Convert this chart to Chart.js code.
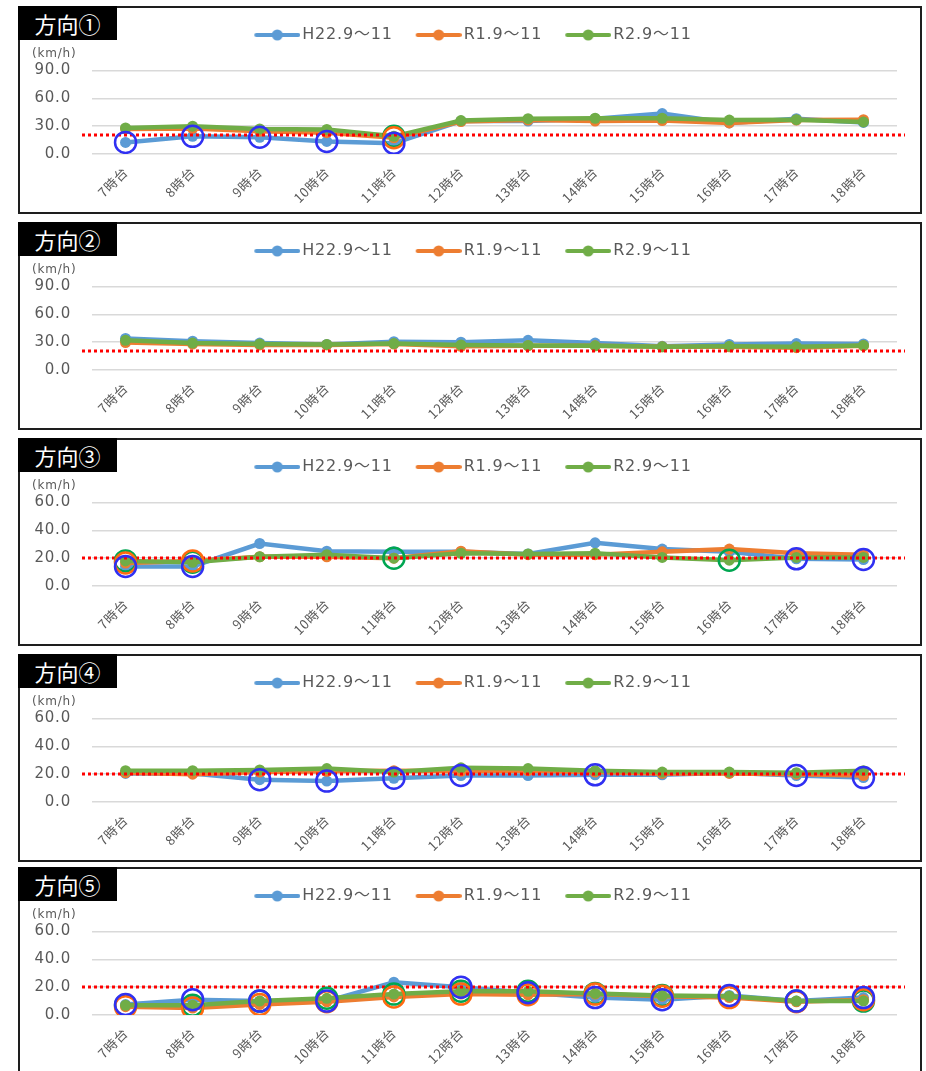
<!DOCTYPE html>
<html lang="ja">
<head>
<meta charset="utf-8">
<title>方向別 旅行速度</title>
<script src="https://cdn.jsdelivr.net/npm/chart.js@4.4.1/dist/chart.umd.min.js"></script>
<style>
  html, body { margin: 0; padding: 0; background: #fff; overflow: hidden; }
  .panel { position: absolute; left: 18px; width: 904px; height: 208px; border: 2px solid #1e1e1e; box-sizing: border-box; background: #fff; }
  .panel canvas { position: absolute; left: 0; top: 0; }
  .tag { position: absolute; left: -2px; top: -2px; width: 99px; height: 34px; background: #000; color: #fff;
         font: 22px "Noto Sans CJK JP", sans-serif; line-height: 34px; text-align: center; z-index: 2; }
</style>
</head>
<body>
<div class="panel" style="top:6px"><div class="tag">方向①</div><canvas id="c1" width="900" height="204"></canvas></div>
<div class="panel" style="top:222px"><div class="tag">方向②</div><canvas id="c2" width="900" height="204"></canvas></div>
<div class="panel" style="top:438px"><div class="tag">方向③</div><canvas id="c3" width="900" height="204"></canvas></div>
<div class="panel" style="top:654px"><div class="tag">方向④</div><canvas id="c4" width="900" height="204"></canvas></div>
<div class="panel" style="top:867px"><div class="tag">方向⑤</div><canvas id="c5" width="900" height="204"></canvas></div>

<script>
const hours = ["7時台", "8時台", "9時台", "10時台", "11時台", "12時台",
               "13時台", "14時台", "15時台", "16時台", "17時台", "18時台"];
const seriesNames = ["H22.9～11", "R1.9～11", "R2.9～11"];
const refSpeed = 20; // 赤点線 (km/h)

// 方向①
const dir1H22 = [12.5, 19, 18, 13.5, 11.5, 35.5, 35.5, 38, 43.5, 33.5, 38, 34];
const dir1R1  = [27, 27.5, 24.5, 23, 17.5, 35, 36.5, 35.5, 36, 33.5, 36.5, 37];
const dir1R2  = [28, 30, 27, 26.5, 19, 36, 38, 38.5, 38.5, 36.5, 37, 34.5];
const dir1RingH22 = ["7時台", "8時台", "9時台", "10時台", "11時台"];
const dir1RingR1  = ["11時台"];
const dir1RingR2  = ["11時台"];

// 方向②
const dir2H22 = [34, 31, 29, 27.5, 30.5, 30, 32, 29, 25.5, 27.5, 28.5, 28];
const dir2R1  = [29.5, 28, 27, 27, 28, 25.5, 26, 26, 25, 25, 24, 26];
const dir2R2  = [32, 29, 28, 27.5, 28.5, 27, 26.5, 26, 25, 25.5, 25, 26.5];
const dir2RingH22 = [];
const dir2RingR1  = [];
const dir2RingR2  = [];

// 方向③
const dir3H22 = [14, 14, 30.5, 25, 24.5, 24.5, 23, 31, 26.5, 24.5, 19.5, 19];
const dir3R1  = [16.5, 18, 21, 21, 20, 25, 22.5, 22.5, 24.5, 26.5, 23.5, 22.5];
const dir3R2  = [18, 17, 21, 22.5, 20, 23.5, 23, 23.5, 20.5, 18.5, 20.5, 20.5];
const dir3RingH22 = ["7時台", "8時台", "17時台", "18時台"];
const dir3RingR1  = ["7時台", "8時台"];
const dir3RingR2  = ["7時台", "8時台", "11時台", "16時台"];

// 方向④
const dir4H22 = [20.5, 20.5, 16, 15, 17, 19, 19, 19.5, 19.5, 21, 19, 17.5];
const dir4R1  = [21, 20, 21.5, 22, 22.5, 22, 22.5, 21.5, 20.5, 20.5, 20, 19];
const dir4R2  = [22.5, 22.5, 23, 24, 21.5, 24.5, 24, 22.5, 21.5, 21.5, 21, 22.5];
const dir4RingH22 = ["9時台", "10時台", "11時台", "12時台", "14時台", "17時台", "18時台"];
const dir4RingR1  = [];
const dir4RingR2  = [];

// 方向⑤
const dir5H22 = [7.5, 11, 10, 10, 23.5, 20, 16, 12.5, 11, 14, 10, 12.5];
const dir5R1  = [6, 5, 7.5, 9.5, 13, 15, 14.5, 15, 13.5, 12.5, 9.5, 11];
const dir5R2  = [7, 7, 10, 12, 15, 17, 17, 15.5, 14, 13.5, 10, 10];
const dir5RingH22 = ["7時台", "8時台", "9時台", "10時台", "12時台", "13時台",
                     "14時台", "15時台", "16時台", "17時台", "18時台"];
const dir5RingR1  = hours.slice();
const dir5RingR2  = hours.slice();

const yMaxes = [90, 90, 60, 60, 60];
const ySteps = [30, 30, 20, 20, 20];

const lineColors = ["#5b9bd5", "#ed7d31", "#70ad47"];
const ringColors = ["#3030f2", "#ff6a10", "#00a651"];
const textGray = "#595959";
const latinFont = "'DejaVu Sans', 'Noto Sans CJK JP', sans-serif";
const jpFont = "'Noto Sans CJK JP', sans-serif";

const panels = [
  { id: "c1", series: [dir1H22, dir1R1, dir1R2], rings: [dir1RingH22, dir1RingR1, dir1RingR2] },
  { id: "c2", series: [dir2H22, dir2R1, dir2R2], rings: [dir2RingH22, dir2RingR1, dir2RingR2] },
  { id: "c3", series: [dir3H22, dir3R1, dir3R2], rings: [dir3RingH22, dir3RingR1, dir3RingR2] },
  { id: "c4", series: [dir4H22, dir4R1, dir4R2], rings: [dir4RingH22, dir4RingR1, dir4RingR2] },
  { id: "c5", series: [dir5H22, dir5R1, dir5R2], rings: [dir5RingH22, dir5RingR1, dir5RingR2] },
];

// 凡例アイコン（線＋丸）: 左側は透明にして項目間の間隔をとる
const legendIcons = lineColors.map((c) => {
  const cv = document.createElement("canvas");
  cv.width = 69; cv.height = 12;
  const g = cv.getContext("2d");
  g.strokeStyle = c; g.lineWidth = 4; g.lineCap = "round";
  g.beginPath(); g.moveTo(25, 6); g.lineTo(67, 6); g.stroke();
  g.fillStyle = c;
  g.beginPath(); g.arc(46, 6, 5.5, 0, Math.PI * 2); g.fill();
  return cv;
});

// 元図の文字は字間が広めなので少し広げる
const wideText = {
  id: "wideText",
  beforeUpdate(chart) { chart.ctx.letterSpacing = "0.8px"; },
  beforeDraw(chart) { chart.ctx.letterSpacing = "0.8px"; },
};

// 20km/h の赤点線
const refLine = {
  id: "refLine",
  afterDatasetDraw(chart, args) {
    if (args.index !== 2) return;
    const { ctx, chartArea, scales } = chart;
    const y = Math.round(scales.y.getPixelForValue(refSpeed));
    ctx.save();
    ctx.strokeStyle = "#ff0000";
    ctx.lineWidth = 3;
    ctx.setLineDash([3, 3]);
    ctx.beginPath();
    ctx.moveTo(chartArea.left - 10, y);
    ctx.lineTo(chartArea.right + 8, y);
    ctx.stroke();
    ctx.restore();
  },
};

panels.forEach((p, idx) => {
  const lines = p.series.map((d, i) => ({
    label: seriesNames[i],
    data: d,
    borderColor: lineColors[i],
    backgroundColor: lineColors[i],
    borderWidth: 4.5,
    pointRadius: 5.5,
    pointHoverRadius: 5.5,
    pointBorderWidth: 0,
    tension: 0,
    order: 3 - i,
  }));
  const rings = p.rings.map((r, i) => ({
    label: "ring" + i,
    data: hours.map((h, k) => (r.includes(h) ? p.series[i][k] : null)),
    showLine: false,
    pointRadius: 10.5,
    pointHoverRadius: 10.5,
    pointBorderWidth: 2.5,
    pointBorderColor: ringColors[i],
    pointBackgroundColor: "rgba(0,0,0,0)",
    borderColor: ringColors[i],
    backgroundColor: "rgba(0,0,0,0)",
    order: 0,
  }));

  new Chart(document.getElementById(p.id), {
    type: "line",
    data: { labels: hours, datasets: lines.concat(rings) },
    options: {
      responsive: false,
      animation: false,
      events: [],
      layout: { padding: { left: 12, right: 23, top: 13, bottom: 0 } },
      plugins: {
        tooltip: { enabled: false },
        legend: {
          position: "top",
          align: "center",
          labels: {
            usePointStyle: true,
            pointStyleWidth: 57,
            padding: 6,
            color: textGray,
            font: { family: latinFont, size: 16 },
            generateLabels: () =>
              seriesNames.map((name, i) => ({
                text: name,
                pointStyle: legendIcons[i],
                fillStyle: lineColors[i],
                strokeStyle: lineColors[i],
                lineWidth: 0,
                hidden: false,
                datasetIndex: i,
                fontColor: textGray,
              })),
          },
        },
        title: {
          display: true,
          text: "(km/h)",
          align: "start",
          position: "top",
          weight: 500,
          color: textGray,
          font: { family: latinFont, size: 12, weight: "normal" },
          padding: { top: -6, bottom: 9 },
        },
      },
      scales: {
        x: {
          offset: true,
          grid: { display: false, drawTicks: false },
          border: { display: false },
          ticks: {
            autoSkip: false,
            maxRotation: 45,
            minRotation: 45,
            padding: 10,
            color: textGray,
            font: { family: jpFont, size: 13 },
          },
          afterFit: (s) => { s.height = 58; },
        },
        y: {
          min: 0,
          max: yMaxes[idx],
          grid: { color: "#d9d9d9", lineWidth: 1.5, drawTicks: false },
          border: { display: false },
          ticks: {
            stepSize: ySteps[idx],
            padding: 21,
            color: textGray,
            font: { family: latinFont, size: 15 },
            callback: (v) => v.toFixed(1),
          },
          afterFit: (s) => { s.width = 60; },
        },
      },
    },
    plugins: [wideText, refLine],
  });
});
</script>
</body>
</html>
